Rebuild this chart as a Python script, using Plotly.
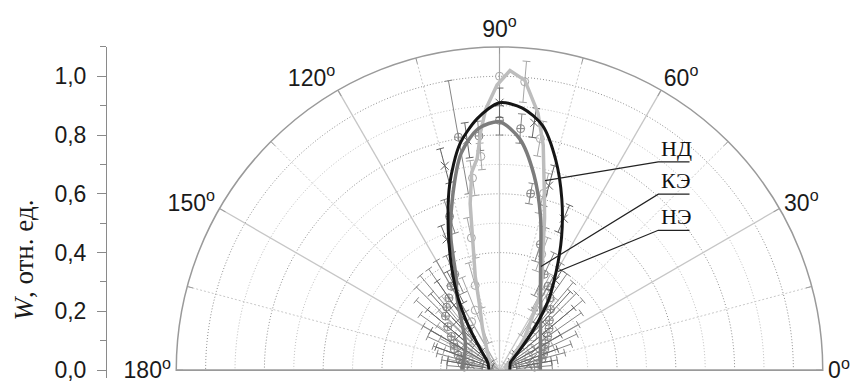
import numpy as np
import plotly.graph_objects as go

# ---------------- data ----------------
# fitted curves: angle (deg) and W (rel. units)
ang_nd = [0, 10, 20, 28, 36, 42, 47, 52, 56, 61.5, 65.5, 69, 73.5, 76, 79, 81.5, 85, 88,
          90.5, 93, 94.5, 96, 98, 100, 101.5, 104.5, 107.5, 112, 117, 125, 135, 145, 160, 170, 180]
r_nd = [0.03, 0.035, 0.025, 0.02, 0.035, 0.055, 0.085, 0.135, 0.18, 0.285, 0.35, 0.41, 0.54, 0.63,
        0.78, 0.885, 0.99, 1.02, 0.97, 0.89, 0.815, 0.725, 0.68, 0.575, 0.46, 0.33, 0.22, 0.155,
        0.105, 0.07, 0.05, 0.04, 0.035, 0.04, 0.03]

ang_ke = [0, 10, 20, 30, 40, 50, 55, 60, 65, 70, 75, 80, 85, 90, 95, 100, 105, 110, 115, 120,
          125, 130, 135, 140, 150, 160, 170, 180]
r_ke = [0.139, 0.141, 0.148, 0.161, 0.182, 0.217, 0.245, 0.28, 0.33, 0.41, 0.54, 0.675, 0.79,
        0.845, 0.825, 0.75, 0.615, 0.485, 0.35, 0.29, 0.235, 0.195, 0.17, 0.152, 0.135, 0.128,
        0.127, 0.127]

ang_ne = [0, 10, 20, 30, 35, 40, 45, 50, 55, 60, 65, 70, 75, 80, 85, 90, 95, 100, 105, 110, 115,
          120, 125, 130, 135, 140, 150, 160, 170, 180]
r_ne = [0.035, 0.036, 0.038, 0.042, 0.045, 0.06, 0.10, 0.18, 0.29, 0.385, 0.50, 0.62, 0.74, 0.845,
        0.895, 0.91, 0.86, 0.78, 0.655, 0.51, 0.385, 0.28, 0.185, 0.115, 0.08, 0.06, 0.045, 0.04,
        0.037, 0.035]

# experimental points with errors
ang_nd_exp = [15, 25, 35, 45, 52, 58, 62, 70, 76, 80, 85, 90, 95, 98, 102, 106, 112, 120, 128,
              136, 144, 152, 160, 168]
r_nd_exp = [0.09, 0.11, 0.13, 0.16, 0.19, 0.24, 0.30, 0.42, 0.62, 0.80, 0.985, 1.00, 0.73, 0.66,
            0.46, 0.30, 0.22, 0.19, 0.17, 0.15, 0.13, 0.12, 0.11, 0.10]
e_nd_exp = [0.07, 0.09, 0.11, 0.13, 0.12, 0.10, 0.07, 0.06, 0.07, 0.06, 0.07, 0.10, 0.045, 0.06,
            0.07, 0.08, 0.12, 0.15, 0.15, 0.14, 0.13, 0.11, 0.09, 0.08]

ang_ke_exp = [5, 10, 15, 20, 25, 30, 35, 40, 45, 50, 55, 60, 65, 72, 80, 85, 90, 95, 100, 108,
              115, 120, 125, 130, 135, 140, 145, 150, 155, 160, 165, 170, 175]
r_ke_exp = [0.12, 0.13, 0.15, 0.16, 0.17, 0.18, 0.20, 0.22, 0.24, 0.27, 0.30, 0.33, 0.36, 0.45,
            0.61, 0.825, 0.85, 0.80, 0.805, 0.55, 0.36, 0.33, 0.30, 0.28, 0.26, 0.23, 0.20, 0.18,
            0.17, 0.15, 0.14, 0.13, 0.12]
e_ke_exp = [0.06, 0.07, 0.08, 0.10, 0.12, 0.13, 0.14, 0.15, 0.13, 0.12, 0.10, 0.09, 0.08, 0.06,
            0.035, 0.05, 0.05, 0.05, 0.195, 0.06, 0.07, 0.10, 0.12, 0.14, 0.14, 0.14, 0.13, 0.12,
            0.10, 0.09, 0.08, 0.07, 0.06]

ang_ne_exp = [10, 20, 30, 40, 48, 58, 67, 75, 82, 90, 98, 105, 112, 118, 125, 132, 140, 150, 160, 170]
r_ne_exp = [0.10, 0.12, 0.14, 0.19, 0.22, 0.36, 0.56, 0.65, 0.85, 0.91, 0.79, 0.72, 0.48, 0.32,
            0.27, 0.22, 0.18, 0.15, 0.13, 0.10]
e_ne_exp = [0.08, 0.09, 0.10, 0.14, 0.14, 0.04, 0.05, 0.07, 0.05, 0.05, 0.06, 0.06, 0.05, 0.06,
            0.10, 0.13, 0.14, 0.12, 0.10, 0.08]

labels = ["НД", "КЭ", "НЭ"]
angle_major = [0, 30, 60, 90, 120, 150, 180]
angle_minor = [15, 45, 75, 105, 135, 165]
w_ticks = [0.0, 0.2, 0.4, 0.6, 0.8, 1.0]
w_minor = [0.1, 0.3, 0.5, 0.7, 0.9, 1.1]

# ---------------- geometry (pixels) ----------------
W, H = 855, 386
CX, CY, R = 499.5, 375.0, 327.5
RMAX = 1.1
SCALE = R / RMAX
YLO, YHI = -0.027, 1.101


def px(x):
    return x / W


def py(y):
    return 1 - y / H


def ypix(v):
    return CY - v * SCALE


fig = go.Figure()

# ---- radial grid circles (dotted) ----
arc = np.linspace(0, 180, 361)
for i, g in enumerate([0.1, 0.2, 0.3, 0.4, 0.5, 0.6, 0.7, 0.8, 0.9, 1.0]):
    col = "#8c8c8c" if i % 2 == 1 else "#bdbdbd"
    fig.add_trace(go.Scatterpolar(r=[g] * len(arc), theta=arc, mode="lines",
                                  line=dict(color=col, width=1, dash="1px,2px"),
                                  hoverinfo="skip", showlegend=False))
# ---- angular grid lines ----
for a in angle_minor:
    fig.add_trace(go.Scatterpolar(r=[0, RMAX], theta=[a, a], mode="lines",
                                  line=dict(color="#c8c8c8", width=1, dash="2px,2px"),
                                  hoverinfo="skip", showlegend=False))
    # small inside tick on the outer circle
    fig.add_trace(go.Scatterpolar(r=[RMAX - 6 / SCALE, RMAX], theta=[a, a], mode="lines",
                                  line=dict(color="#9a9a9a", width=1),
                                  hoverinfo="skip", showlegend=False))
for a in angle_major[1:-1]:
    fig.add_trace(go.Scatterpolar(r=[0, RMAX], theta=[a, a], mode="lines",
                                  line=dict(color="#c6c6c6", width=1.3),
                                  hoverinfo="skip", showlegend=False))
for a in [angle_major[0], angle_major[-1]]:
    fig.add_trace(go.Scatterpolar(r=[0, RMAX], theta=[a, a], mode="lines",
                                  line=dict(color="#cfcfcf", width=2.2),
                                  hoverinfo="skip", showlegend=False))


def errbars(angs, rs, es, cap_px=4.0):
    rr, tt = [], []
    for a, r, e in zip(angs, rs, es):
        lo = max(r - e, 0.0)
        hi = r + e
        rr += [lo, hi, None]
        tt += [a, a, None]
        for v in (hi, lo):
            if v * SCALE > 8:
                d = np.degrees(cap_px / (v * SCALE))
                rr += [v, v, None]
                tt += [a - d, a + d, None]
    return rr, tt


exp_sets = [
    (ang_nd_exp, r_nd_exp, e_nd_exp, "#a6a6a6", "circle-open"),
    (ang_ke_exp, r_ke_exp, e_ke_exp, "#858585", "circle-cross-open"),
    (ang_ne_exp, r_ne_exp, e_ne_exp, "#666666", "x-thin-open"),
]
for angs, rs, es, col, sym in exp_sets:
    rr, tt = errbars(angs, rs, es)
    fig.add_trace(go.Scatterpolar(r=rr, theta=tt, mode="lines",
                                  line=dict(color=col, width=1),
                                  hoverinfo="skip", showlegend=False))
    fig.add_trace(go.Scatterpolar(r=rs, theta=angs, mode="markers",
                                  marker=dict(symbol=sym, size=8, color=col,
                                              line=dict(color=col, width=1)),
                                  hoverinfo="skip", showlegend=False))

# ---- fitted curves ----
fig.add_trace(go.Scatterpolar(r=r_nd, theta=ang_nd, mode="lines", name=labels[0],
                              line=dict(color="#bdbdbd", width=3.5),
                              showlegend=False))
fig.add_trace(go.Scatterpolar(r=r_ke, theta=ang_ke, mode="lines", name=labels[1],
                              line=dict(color="#7c7c7c", width=3.5, shape="spline", smoothing=0.8),
                              showlegend=False))
fig.add_trace(go.Scatterpolar(r=r_ne, theta=ang_ne, mode="lines", name=labels[2],
                              line=dict(color="#151515", width=3, shape="spline", smoothing=0.8),
                              showlegend=False))

# dummy cartesian trace so the left W axis is drawn
fig.add_trace(go.Scatter(x=[0], y=[0], mode="markers", marker=dict(opacity=0),
                         hoverinfo="skip", showlegend=False, xaxis="x", yaxis="y"))

angle_text = [f"{a}<sup>o</sup>" for a in angle_major]

fig.update_layout(
    width=W, height=H,
    margin=dict(l=0, r=0, t=0, b=0),
    paper_bgcolor="white",
    plot_bgcolor="rgba(0,0,0,0)",
    separators=", ",
    font=dict(family="Liberation Sans, Arial, sans-serif", color="#1a1a1a"),
    polar=dict(
        domain=dict(x=[px(CX - R), px(CX + R)], y=[py(CY), py(CY - R)]),
        sector=[0, 180],
        bgcolor="rgba(0,0,0,0)",
        radialaxis=dict(range=[0, RMAX], showgrid=False, showticklabels=False,
                        ticks="", showline=False),
        angularaxis=dict(direction="counterclockwise", rotation=0,
                         tickmode="array", tickvals=angle_major, ticktext=angle_text,
                         ticks="inside", ticklen=6, tickcolor="#9a9a9a",
                         showgrid=False, showline=True, linecolor="#9a9a9a", linewidth=1.5,
                         tickfont=dict(size=23, family="Liberation Sans, Arial, sans-serif",
                                       color="#1a1a1a")),
    ),
    xaxis=dict(domain=[0.0, 0.12], visible=False, range=[0, 1], fixedrange=True),
    yaxis=dict(domain=[py(ypix(YLO)), py(ypix(YHI))], range=[YLO, YHI],
               anchor="free", position=px(106), side="left",
               showline=True, linecolor="#8a8a8a", linewidth=1,
               ticks="outside", ticklen=9, tickcolor="#8a8a8a", tickwidth=1,
               tickmode="array", tickvals=w_ticks, tickformat=".1f",
               minor=dict(tickmode="array", tickvals=w_minor, ticks="outside",
                          ticklen=6, tickcolor="#8a8a8a"),
               showgrid=False, zeroline=False, ticklabelstandoff=6,
               ticklabeloverflow="allow",
               tickfont=dict(size=23, color="#1a1a1a",
                             family="Liberation Sans, Arial, sans-serif")),
)

# axis title
fig.add_annotation(text="<i>W</i>, отн. ед.", textangle=-90, x=px(24), y=py(264),
                   xref="paper", yref="paper", showarrow=False,
                   xanchor="center", yanchor="middle",
                   font=dict(family="Liberation Serif, Times New Roman, serif", size=27,
                             color="#1a1a1a"))

# curve labels with leader lines and underlines
label_pos = [  # (underline y px, leader end x px, leader end y px)
    (164.0, 545.0, 183.0),
    (196.7, 541.0, 270.0),
    (233.3, 558.0, 275.0),
]
UL_X0, UL_X1 = 658.3, 689.5
for text, (uy, ex, ey) in zip(labels, label_pos):
    fig.add_annotation(text=text, x=px(UL_X0 + 1), y=py(uy + 1), xref="paper", yref="paper",
                       showarrow=False, xanchor="left", yanchor="bottom",
                       font=dict(family="Liberation Serif, Times New Roman, serif", size=22,
                                 color="#111111"))
    fig.add_shape(type="path", xref="paper", yref="paper",
                  path=f"M {px(ex)},{py(ey)} L {px(UL_X0)},{py(uy)} L {px(UL_X1)},{py(uy)}",
                  line=dict(color="#222222", width=1.2))

fig.write_html("out.html")
